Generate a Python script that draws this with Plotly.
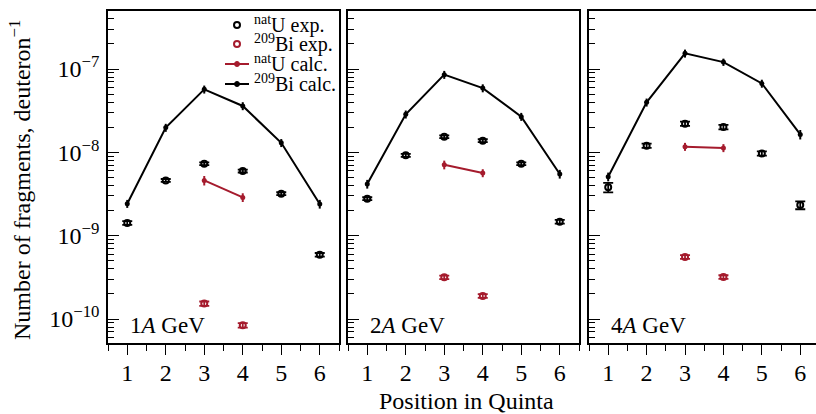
import plotly.graph_objects as go

# ---------------- data ----------------
positions = [1, 2, 3, 4, 5, 6]
calc_pos_u = [3, 4]
panel_labels = ["1<i>A</i> GeV", "2<i>A</i> GeV", "4<i>A</i> GeV"]
legend_labels = ["<sup>nat</sup>U exp.", "<sup>209</sup>Bi exp.", "<sup>nat</sup>U calc.", "<sup>209</sup>Bi calc."]

# 209Bi calc. (black line)
bi_calc_1 = [2.42e-9, 1.98e-8, 5.7e-8, 3.6e-8, 1.3e-8, 2.4e-9]
bi_calc_2 = [4.17e-9, 2.86e-8, 8.55e-8, 5.9e-8, 2.68e-8, 5.5e-9]
bi_calc_3 = [5.1e-9, 3.98e-8, 1.54e-7, 1.21e-7, 6.7e-8, 1.64e-8]
bi_calc_err_1 = [0.11, 0.11, 0.11, 0.11, 0.11, 0.12]
bi_calc_err_2 = [0.12, 0.11, 0.11, 0.11, 0.11, 0.12]
bi_calc_err_3 = [0.12, 0.11, 0.11, 0.10, 0.11, 0.13]

# natU exp. (black open circles)
u_exp_1 = [1.42e-9, 4.6e-9, 7.3e-9, 5.97e-9, 3.19e-9, 5.9e-10]
u_exp_2 = [2.78e-9, 9.2e-9, 1.54e-8, 1.38e-8, 7.3e-9, 1.47e-9]
u_exp_3 = [3.8e-9, 1.2e-8, 2.21e-8, 2.01e-8, 9.7e-9, 2.33e-9]
u_exp_err_1 = [0.05, 0.04, 0.04, 0.04, 0.04, 0.05]
u_exp_err_2 = [0.04, 0.04, 0.04, 0.04, 0.04, 0.05]
u_exp_err_3 = [0.13, 0.06, 0.06, 0.06, 0.06, 0.11]

# natU calc. (red line), positions 3 and 4
u_calc_1 = [4.6e-9, 2.88e-9]
u_calc_2 = [7.1e-9, 5.65e-9]
u_calc_3 = [1.17e-8, 1.13e-8]
u_calc_err_1 = [0.13, 0.12]
u_calc_err_2 = [0.12, 0.11]
u_calc_err_3 = [0.11, 0.11]

# 209Bi exp. (red open circles), positions 3 and 4
bi_exp_1 = [1.53e-10, 8.4e-11]
bi_exp_2 = [3.16e-10, 1.89e-10]
bi_exp_3 = [5.55e-10, 3.19e-10]
bi_exp_err_1 = [0.06, 0.06]
bi_exp_err_2 = [0.05, 0.05]
bi_exp_err_3 = [0.05, 0.05]

panels = [
    (bi_calc_1, bi_calc_err_1, u_exp_1, u_exp_err_1, u_calc_1, u_calc_err_1, bi_exp_1, bi_exp_err_1),
    (bi_calc_2, bi_calc_err_2, u_exp_2, u_exp_err_2, u_calc_2, u_calc_err_2, bi_exp_2, bi_exp_err_2),
    (bi_calc_3, bi_calc_err_3, u_exp_3, u_exp_err_3, u_calc_3, u_calc_err_3, bi_exp_3, bi_exp_err_3),
]

# ---------------- style ----------------
W, H = 816, 414
BLACK = "#000000"
RED = "#a51b2d"
FONT = "Liberation Serif, 'Times New Roman', 'DejaVu Serif', serif"
TICK_SIZE = 24

x_domains = [(108, 339), (348, 579), (589, 816)]
x_ranges = [[0.5, 6.5], [0.5, 6.5], [0.5, 6.41]]
y_top, y_bot = 11, 343
y_domain = [(H - y_bot) / H, (H - y_top) / H]
y_range = [-10.288, -6.304]

def abs_err(vals, rel):
    return [v * r for v, r in zip(vals, rel)]

def px(x):
    return x / W

def py(y):
    return (H - y) / H

fig = go.Figure()

for i, (bc, bce, ue, uee, uc, uce, be, bee) in enumerate(panels):
    xa = "x" if i == 0 else f"x{i+1}"
    ya = "y" if i == 0 else f"y{i+1}"
    # natU exp.
    fig.add_trace(go.Scatter(
        x=positions, y=ue, mode="markers", name=legend_labels[0],
        xaxis=xa, yaxis=ya, showlegend=False,
        marker=dict(symbol="circle-open", size=6, color=BLACK, line=dict(width=2, color=BLACK)),
        error_y=dict(type="data", array=abs_err(ue, uee), color=BLACK, thickness=1.8, width=5),
    ))
    # 209Bi exp.
    fig.add_trace(go.Scatter(
        x=calc_pos_u, y=be, mode="markers", name=legend_labels[1],
        xaxis=xa, yaxis=ya, showlegend=False,
        marker=dict(symbol="circle-open", size=6, color=RED, line=dict(width=2, color=RED)),
        error_y=dict(type="data", array=abs_err(be, bee), color=RED, thickness=1.8, width=5),
    ))
    # natU calc.
    fig.add_trace(go.Scatter(
        x=calc_pos_u, y=uc, mode="lines+markers", name=legend_labels[2],
        xaxis=xa, yaxis=ya, showlegend=False,
        line=dict(color=RED, width=2),
        marker=dict(symbol="circle", size=5, color=RED),
        error_y=dict(type="data", array=abs_err(uc, uce), color=RED, thickness=2, width=0),
    ))
    # 209Bi calc.
    fig.add_trace(go.Scatter(
        x=positions, y=bc, mode="lines+markers", name=legend_labels[3],
        xaxis=xa, yaxis=ya, showlegend=False,
        line=dict(color=BLACK, width=2),
        marker=dict(symbol="circle", size=5, color=BLACK),
        error_y=dict(type="data", array=abs_err(bc, bce), color=BLACK, thickness=2, width=0),
    ))

major_y = [1e-10, 1e-9, 1e-8, 1e-7]
major_y_text = ["10<sup>\u221210</sup>", "10<sup>\u22129</sup>", "10<sup>\u22128</sup>", "10<sup>\u22127</sup>"]
minor_y = [m * 10.0 ** e for e in range(-11, -6) for m in range(2, 10)]

layout = dict(
    width=W, height=H,
    margin=dict(l=0, r=0, t=0, b=0),
    paper_bgcolor="white", plot_bgcolor="white",
    font=dict(family=FONT, size=20, color=BLACK),
    showlegend=False,
)

for i in range(3):
    suffix = "" if i == 0 else str(i + 1)
    d0, d1 = x_domains[i]
    layout["xaxis" + suffix] = dict(
        domain=[d0 / W, d1 / W], range=x_ranges[i], anchor="y" + suffix,
        showline=True, linecolor=BLACK, linewidth=1.5, mirror=True,
        showgrid=False, zeroline=False,
        tickmode="array", tickvals=positions, ticktext=[str(p) for p in positions],
        ticks="outside", ticklen=10, tickwidth=1.3, tickcolor=BLACK,
        ticklabelstandoff=-3,
        tickfont=dict(family=FONT, size=TICK_SIZE, color=BLACK),
        minor=dict(tickmode="array", tickvals=[0.5, 1.5, 2.5, 3.5, 4.5, 5.5, 6.5],
                   ticks="outside", ticklen=6, tickwidth=1.3, tickcolor=BLACK),
    )
    layout["yaxis" + suffix] = dict(
        domain=y_domain, type="log", range=y_range, anchor="x" + suffix,
        showline=True, linecolor=BLACK, linewidth=1.5, mirror=(i < 2),
        showgrid=False, zeroline=False,
        tickmode="array", tickvals=major_y, ticktext=major_y_text,
        showticklabels=(i == 0),
        ticks="inside", ticklen=11, tickwidth=1.3, tickcolor=BLACK,
        ticklabelstandoff=2,
        tickfont=dict(family=FONT, size=TICK_SIZE, color=BLACK),
        minor=dict(tickmode="array", tickvals=minor_y,
                   ticks="inside", ticklen=6, tickwidth=1.3, tickcolor=BLACK),
    )

annotations = []
for i in range(3):
    suffix = "" if i == 0 else str(i + 1)
    annotations.append(dict(
        text=panel_labels[i], xref=f"x{suffix} domain", yref=f"y{suffix} domain",
        x=0.087, y=0.052, xanchor="left", yanchor="middle", showarrow=False,
        font=dict(family=FONT, size=23, color=BLACK),
    ))
annotations.append(dict(
    text="Number of fragments, deuteron<sup>\u22121</sup>", xref="paper", yref="paper",
    x=px(20), y=py(180), xanchor="center", yanchor="middle", textangle=-90,
    showarrow=False, font=dict(family=FONT, size=24, color=BLACK),
))
annotations.append(dict(
    text="Position in Quinta", xref="paper", yref="paper",
    x=px(466), y=py(401), xanchor="center", yanchor="middle",
    showarrow=False, font=dict(family=FONT, size=24, color=BLACK),
))

# ---- manual legend (inside panel 1, top right) ----
leg_rows = [25, 44, 64, 84]
leg_colors = [BLACK, RED, RED, BLACK]
leg_kind = ["open", "open", "line", "line"]
glyph_cx, text_x = 237, 252
shapes = []
for lab, yy, col, kind in zip(legend_labels, leg_rows, leg_colors, leg_kind):
    if kind == "open":
        shapes.append(dict(type="circle", xref="paper", yref="paper",
                           x0=px(glyph_cx - 3), x1=px(glyph_cx + 3), y0=py(yy + 3), y1=py(yy - 3),
                           line=dict(color=col, width=2), fillcolor="rgba(0,0,0,0)"))
    else:
        shapes.append(dict(type="line", xref="paper", yref="paper",
                           x0=px(glyph_cx - 12), x1=px(glyph_cx + 12), y0=py(yy), y1=py(yy),
                           line=dict(color=col, width=2)))
        shapes.append(dict(type="circle", xref="paper", yref="paper",
                           x0=px(glyph_cx - 2.5), x1=px(glyph_cx + 2.5), y0=py(yy + 2.5), y1=py(yy - 2.5),
                           line=dict(color=col, width=1), fillcolor=col))
    annotations.append(dict(
        text=lab, xref="paper", yref="paper", x=px(text_x), y=py(yy - 1),
        xanchor="left", yanchor="middle", showarrow=False,
        font=dict(family=FONT, size=20, color=BLACK),
    ))

layout["annotations"] = annotations
layout["shapes"] = shapes

fig.update_layout(**layout)
fig.write_html("out.html")
